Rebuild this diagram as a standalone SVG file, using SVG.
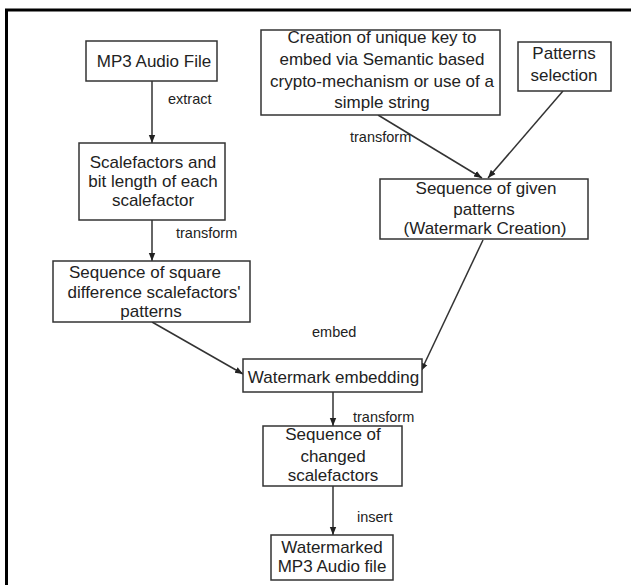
<svg xmlns="http://www.w3.org/2000/svg" width="631" height="585" viewBox="0 0 631 585">
<style>
.box{fill:#fff;stroke:#333;stroke-width:1.5}
.t{font-family:"Liberation Sans",Arial,sans-serif;font-size:17px;fill:#222;text-anchor:middle}
.l{font-family:"Liberation Sans",Arial,sans-serif;font-size:14.5px;fill:#222}
.c{fill:none;stroke:#333;stroke-width:1.5;marker-end:url(#ah)}
</style>
<defs>
<marker id="ah" viewBox="0 0 10 10" refX="10" refY="5" markerWidth="8" markerHeight="8" markerUnits="userSpaceOnUse" orient="auto">
<path d="M0,1 L10,5 L0,9 z" fill="#222"/>
</marker>
</defs>
<rect width="631" height="585" fill="#fff"/>
<path d="M6.5,585 V10 H631" fill="none" stroke="#000" stroke-width="3"/>
<g id="connectors">
<line class="c" x1="152" y1="81" x2="152" y2="143"/>
<line class="c" x1="152" y1="220" x2="152" y2="261"/>
<line class="c" x1="378" y1="115" x2="482" y2="178"/>
<line class="c" x1="563" y1="91" x2="488" y2="178"/>
<line class="c" x1="152" y1="322" x2="243" y2="374"/>
<line class="c" x1="483" y1="240" x2="421" y2="371"/>
<line class="c" x1="333" y1="392" x2="333" y2="426"/>
<line class="c" x1="333" y1="486" x2="333" y2="535"/>
<text class="l" x="168" y="104">extract</text>
<text class="l" x="176" y="238">transform</text>
<text class="l" x="350" y="142">transform</text>
<text class="l" x="312" y="337">embed</text>
<text class="l" x="353" y="422">transform</text>
<text class="l" x="357" y="522">insert</text>
</g>
<g id="mp3">
<rect class="box" x="86" y="41" width="131" height="40"/>
<text class="t" x="154" y="67">MP3 Audio File</text>
</g>
<g id="scalefactors">
<rect class="box" x="79" y="143" width="146" height="77"/>
<text class="t" x="153" y="168">Scalefactors and</text>
<text class="t" x="153" y="187">bit length of each</text>
<text class="t" x="153" y="206">scalefactor</text>
</g>
<g id="squarediff">
<rect class="box" x="53" y="261" width="197" height="61"/>
<text class="t" x="145" y="278">Sequence of square</text>
<text class="t" x="154" y="298">difference scalefactors'</text>
<text class="t" x="151" y="317">patterns</text>
</g>
<g id="creation">
<rect class="box" x="261" y="30" width="239" height="85"/>
<text class="t" x="382" y="43">Creation of unique key to</text>
<text class="t" x="382" y="65">embed via Semantic based</text>
<text class="t" x="382" y="87">crypto-mechanism or use of a</text>
<text class="t" x="382" y="108">simple string</text>
</g>
<g id="patterns">
<rect class="box" x="518" y="42" width="93" height="49"/>
<text class="t" x="564" y="59">Patterns</text>
<text class="t" x="564" y="81">selection</text>
</g>
<g id="given">
<rect class="box" x="380" y="179" width="208" height="60"/>
<text class="t" x="486" y="194">Sequence of given</text>
<text class="t" x="484" y="215">patterns</text>
<text class="t" x="485" y="234">(Watermark Creation)</text>
</g>
<g id="embedding">
<rect class="box" x="243" y="359" width="179" height="33"/>
<text class="t" x="333.5" y="383">Watermark embedding</text>
</g>
<g id="changed">
<rect class="box" x="263" y="426" width="139" height="60"/>
<text class="t" x="333" y="440">Sequence of</text>
<text class="t" x="333" y="462">changed</text>
<text class="t" x="333" y="481">scalefactors</text>
</g>
<g id="watermarked">
<rect class="box" x="271" y="535" width="122" height="45"/>
<text class="t" x="332" y="553">Watermarked</text>
<text class="t" x="332" y="572">MP3 Audio file</text>
</g>
</svg>
